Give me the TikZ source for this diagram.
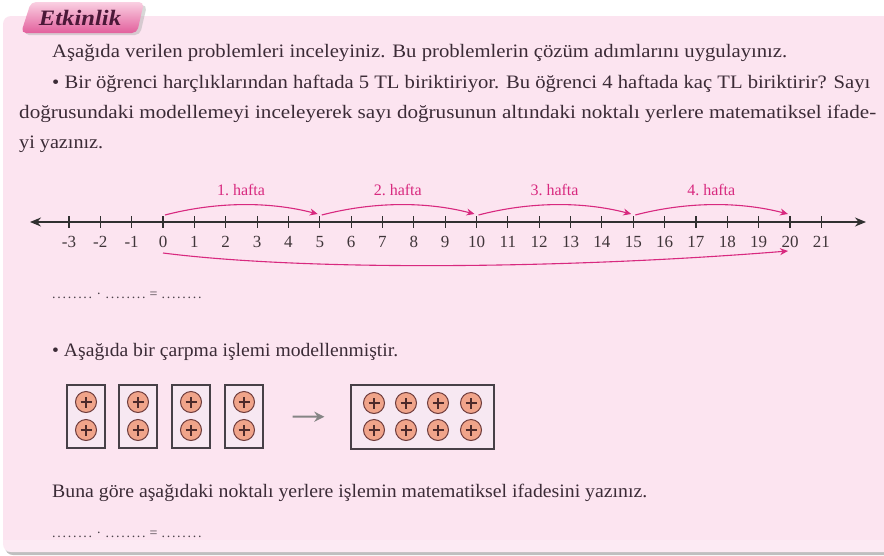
\documentclass[tikz,border=0pt]{standalone}
\usepackage{fontspec}
\setmainfont{Liberation Serif}
\usetikzlibrary{arrows.meta}
\definecolor{panelpink}{HTML}{FCE4F0}
\definecolor{txt}{HTML}{3B2B36}
\definecolor{mag}{HTML}{D8297F}
\definecolor{axisc}{HTML}{303030}
\definecolor{numc}{HTML}{3F3539}
\definecolor{tabtop}{HTML}{FAD0E2}
\definecolor{tabbot}{HTML}{E25F9C}
\definecolor{tabtxt}{HTML}{4B1838}
\definecolor{coinfill}{HTML}{F0A48A}
\definecolor{coinline}{HTML}{6E3C3C}
\definecolor{boxfill}{HTML}{F7E8F2}
\definecolor{boxline}{HTML}{474047}
\definecolor{dotc}{HTML}{4A4048}
\definecolor{arrowgray}{HTML}{858585}
\newcommand\fitw[2]{\resizebox{#1}{\height}{#2}}
\newcommand\dgroup{\hbox to 40pt{.\hfill.\hfill.\hfill.\hfill.\hfill.\hfill.\hfill.}}
\newcommand\dotanswer{\dgroup\hspace{5pt}\raisebox{4pt}{.}\hspace{5pt}\dgroup\hspace{4pt}=\hspace{4pt}\dgroup}
\tikzset{
  bodytext/.style={anchor=base west, inner sep=0pt, text=txt, font=\fontsize{19}{23}\selectfont},
  numlabel/.style={anchor=base, inner sep=0pt, text=numc, font=\fontsize{17}{19}\selectfont},
  weeklabel/.style={anchor=base, inner sep=0pt, text=mag, font=\fontsize{16}{18}\selectfont},
  magarc/.style={draw=mag, line width=1.1pt, -{Stealth[length=8pt,width=7pt]}},
  axisline/.style={draw=axisc, line width=1.5pt, {Stealth[length=11pt,width=9pt]}-{Stealth[length=11pt,width=9pt]}},
  tickmark/.style={draw=axisc, line width=1.1pt},
  dotline/.style={anchor=base west, inner sep=0pt, text=dotc, font=\fontsize{14}{15}\selectfont},
  smallbox/.style={draw=boxline, fill=boxfill, line width=1.3pt, minimum width=38pt, minimum height=63pt, inner sep=0pt},
  bigbox/.style={draw=boxline, fill=boxfill, line width=1.3pt, minimum width=143pt, minimum height=64pt, inner sep=0pt},
  coin/.style={circle, draw=coinline, fill=coinfill, line width=1pt, minimum size=21pt, inner sep=0pt,
    path picture={\draw[coinline!70!black, line width=1.1pt]
      ([xshift=-5.5pt]path picture bounding box.center) -- ([xshift=5.5pt]path picture bounding box.center)
      ([yshift=-5.5pt]path picture bounding box.center) -- ([yshift=5.5pt]path picture bounding box.center);}},
  grayarrow/.style={draw=arrowgray, line width=2pt, -{Stealth[length=10pt,width=10pt]}},
}
\begin{document}
\begin{tikzpicture}[x=1pt,y=-1pt]
\useasboundingbox (0,0) rectangle (884,555);
\fill[white] (0,0) rectangle (884,555);
% panel
\fill[black!25, rounded corners=8pt] (5,19) rectangle (900,555);
\fill[panelpink, rounded corners=8pt] (3,16) rectangle (900,552);
\fill[white, opacity=0.25] (3,540) rectangle (900,552);
% tab
\fill[black!30, opacity=0.5, rounded corners=5pt] (24,35) -- (34,5) -- (147,5) -- (140,35) -- cycle;
\shade[top color=tabtop, bottom color=tabbot, rounded corners=5pt] (21,33) -- (31,2) -- (144,2) -- (137,33) -- cycle;
\node[inner sep=0pt, text=tabtxt, font=\fontsize{22}{24}\selectfont\bfseries\itshape] (tab) at (80,18) {\scalebox{1.12}[1]{Etkinlik}};
% paragraph
\node[bodytext] (l1) at (52,57) {\fitw{735pt}{Aşağıda verilen problemleri inceleyiniz. Bu problemlerin çözüm adımlarını uygulayınız.}};
\node[bodytext] (l2) at (52,88) {\fitw{818pt}{• Bir öğrenci harçlıklarından haftada 5 TL biriktiriyor. Bu öğrenci 4 haftada kaç TL biriktirir? Sayı}};
\node[bodytext] (l3) at (19,118) {\fitw{857pt}{doğrusundaki modellemeyi inceleyerek sayı doğrusunun altındaki noktalı yerlere matematiksel ifade-}};
\node[bodytext] (l4) at (19,148) {\fitw{84pt}{yi yazınız.}};
% number line
\coordinate (L) at (30,222);
\coordinate (R) at (866,222);
\draw[axisline] (L) -- (R);
\foreach \n in {-3,...,21}{
  \coordinate (t\n) at ({163+31.35*\n},222);
  \draw[tickmark] ([yshift=6pt]t\n) -- ([yshift=-6pt]t\n);
  \node[numlabel] (n\n) at ([yshift=-25pt]t\n) {\n};
}
\foreach \a/\b/\k in {0/5/1,5/10/2,10/15/3,15/20/4}{
  \draw[magarc] ([xshift=2pt,yshift=7pt]t\a) .. controls +(50,-13) and +(-50,-13) .. ([xshift=-2pt,yshift=8pt]t\b);
  \node[weeklabel] (w\k) at ([xshift=78pt,yshift=27pt]t\a) {\k.\ hafta};
}
\draw[magarc] ([yshift=-31pt]t0) .. controls +(150,19) and +(-210,17) .. ([xshift=-2pt,yshift=-29pt]t20);
% dotted answer 1
\node[dotline] (d1) at (52,298) {\dotanswer};
% second part
\node[bodytext] (l5) at (52,356) {\fitw{346pt}{• Aşağıda bir çarpma işlemi modellenmiştir.}};
\foreach \i/\x in {1/86,2/138,3/191,4/244}{
  \node[smallbox] (b\i) at (\x,416.5) {};
  \node[coin] (c\i a) at (\x,402) {};
  \node[coin] (c\i b) at (\x,430) {};
}
\node[bigbox] (big) at (422.5,417) {};
\foreach \j/\x in {1/374,2/406,3/438,4/471}{
  \node[coin] (ca\j) at (\x,403) {};
  \node[coin] (cb\j) at (\x,430) {};
}
\draw[grayarrow, shorten <=29pt, shorten >=26pt] (b4) -- (big);
\node[bodytext] (l6) at (52,497) {\fitw{595pt}{Buna göre aşağıdaki noktalı yerlere işlemin matematiksel ifadesini yazınız.}};
\node[dotline] (d2) at (52,537) {\dotanswer};
\end{tikzpicture}
\end{document}
